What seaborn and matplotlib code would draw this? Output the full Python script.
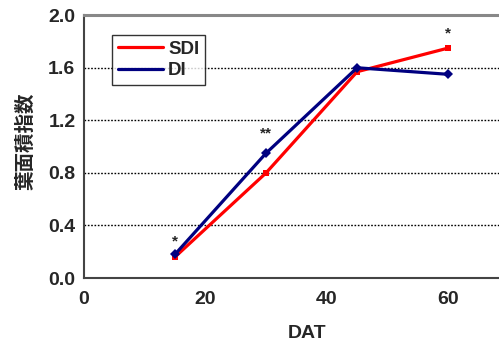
import pandas as pd
import seaborn as sns
import matplotlib.pyplot as plt

dat = [15, 30, 45, 60]
sdi = [0.16, 0.80, 1.57, 1.75]
di = [0.18, 0.95, 1.60, 1.55]
stars = ["*", "**", "", "*"]
star_y = [0.28, 1.10, 0, 1.86]

df = pd.DataFrame({"DAT": dat * 2,
                   "LAI": sdi + di,
                   "group": ["SDI"] * 4 + ["DI"] * 4})

sns.set_style("white")
plt.rcParams['font.family'] = ['Liberation Sans', 'Noto Sans CJK JP', 'DejaVu Sans']

fig = plt.figure(figsize=(4.99, 3.45), dpi=100)
ax = fig.add_axes([0.168, 0.194, 0.852, 0.762])

sns.lineplot(data=df, x="DAT", y="LAI", hue="group", style="group",
             palette={"SDI": "#ff0000", "DI": "#000080"},
             markers={"SDI": "s", "DI": "D"}, dashes=False,
             markersize=5, linewidth=2.3, markeredgewidth=0, ax=ax)

for x, s, y in zip(dat, stars, star_y):
    if s:
        ax.text(x, y, s, ha="center", va="center", fontsize=11, fontweight="bold")

ax.set_xlim(0, 70)
ax.set_ylim(0, 2.0)
ax.set_xticks([0, 20, 40, 60])
ax.set_yticks([0, 0.4, 0.8, 1.2, 1.6, 2.0])
ax.set_yticklabels(["0.0", "0.4", "0.8", "1.2", "1.6", "2.0"])
for y in [0.4, 0.8, 1.2, 1.6]:
    ax.axhline(y, color="black", linestyle=(0, (1.2, 1.2)), linewidth=1, zorder=0)

ax.tick_params(axis="y", direction="out", length=3, width=1, labelsize=14, pad=3)
ax.tick_params(axis="x", direction="in", length=4, width=1, labelsize=14, pad=9)
for lab in ax.get_xticklabels() + ax.get_yticklabels():
    lab.set_fontweight("bold")

ax.spines["top"].set_color("#888888")
ax.spines["top"].set_linewidth(2.2)
ax.spines["bottom"].set_color("#444444")
ax.spines["bottom"].set_linewidth(1.5)
ax.spines["left"].set_color("#444444")
ax.spines["left"].set_linewidth(1.5)
ax.spines["right"].set_visible(False)

ax.set_xlabel("DAT", fontsize=14, fontweight="bold")
ax.xaxis.set_label_coords(0.525, -0.178)
ax.set_ylabel("葉面積指数", fontsize=14, fontweight="bold")
ax.yaxis.set_label_coords(-0.115, 0.52)

leg = ax.legend(loc="upper left", bbox_to_anchor=(0.066, 0.925), frameon=True,
                fancybox=False, edgecolor="black", fontsize=13.5, borderaxespad=0,
                handlelength=2.4, borderpad=0.3, labelspacing=0.25, handletextpad=0.3)
leg.get_frame().set_linewidth(1)
for t in leg.get_texts():
    t.set_fontweight("bold")
for h in leg.legend_handles:
    h.set_marker("")
    h.set_linewidth(2.3)

fig.savefig("out.png", dpi=100)
